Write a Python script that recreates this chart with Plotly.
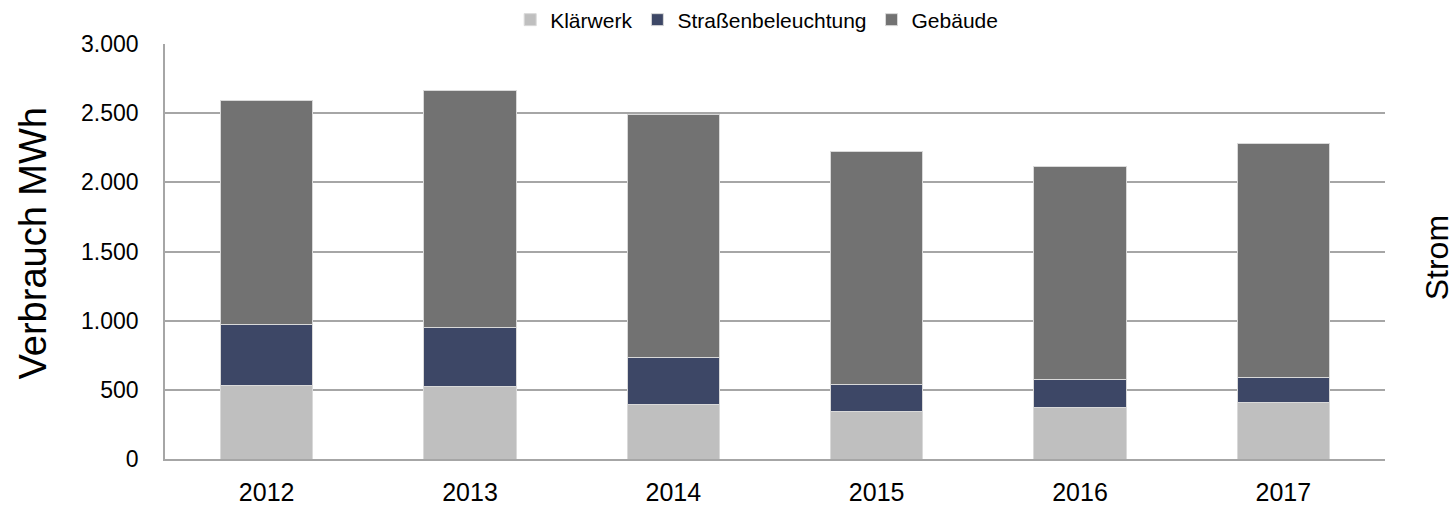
import plotly.graph_objects as go

years = ["2012", "2013", "2014", "2015", "2016", "2017"]
klaerwerk = [533, 526, 396, 343, 372, 405]
strassen = [439, 422, 338, 195, 200, 184]
gebaeude = [1623, 1713, 1753, 1686, 1546, 1690]

y_ticks = [0, 500, 1000, 1500, 2000, 2500, 3000]

fig = go.Figure()
series = [
    ("Klärwerk", klaerwerk, "#BFBFBF"),
    ("Straßenbeleuchtung", strassen, "#3D4766"),
    ("Gebäude", gebaeude, "#727272"),
]
for name, vals, col in series:
    fig.add_trace(go.Bar(
        x=years, y=vals, name=name,
        marker=dict(color=col, line=dict(color="#D9D9D9", width=1)),
    ))

fig.update_layout(
    barmode="stack",
    bargap=0.547,
    width=1456, height=508,
    margin=dict(l=165, r=71, t=44, b=49, autoexpand=False),
    plot_bgcolor="white", paper_bgcolor="white",
    separators=",.",
    font=dict(family="Liberation Sans, Arial, sans-serif", color="#000000", size=22),
    legend=dict(orientation="h", x=0.485, xanchor="center",
                yref="container", y=1 - 20 / 508, yanchor="middle",
                font=dict(size=21), traceorder="normal", itemwidth=30),
    showlegend=True,
)
fig.update_yaxes(
    range=[0, 3000], tickvals=y_ticks, tickformat=",d",
    showgrid=True, gridcolor="#A6A6A6", gridwidth=1.5,
    showline=True, linecolor="#A6A6A6", linewidth=1.5,
    zeroline=False, ticks="", ticklen=0, automargin=False,
    tickfont=dict(size=23), ticklabelstandoff=20,
)
fig.update_xaxes(
    showline=True, linecolor="#A6A6A6", linewidth=1.5,
    ticks="", tickfont=dict(size=25), ticklabelstandoff=10, automargin=False,
)
fig.add_annotation(
    text="Verbrauch MWh", xref="paper", yref="paper",
    x=-0.108, y=0.52, xanchor="center", yanchor="middle",
    textangle=-90, showarrow=False, font=dict(size=38),
)
fig.add_annotation(
    text="Strom", xref="paper", yref="paper",
    x=1.0426, y=0.486, xanchor="center", yanchor="middle",
    textangle=-90, showarrow=False, font=dict(size=32),
)

fig.write_html("out.html", config={"displayModeBar": False},
               post_script="document.body.style.margin='0px';")
